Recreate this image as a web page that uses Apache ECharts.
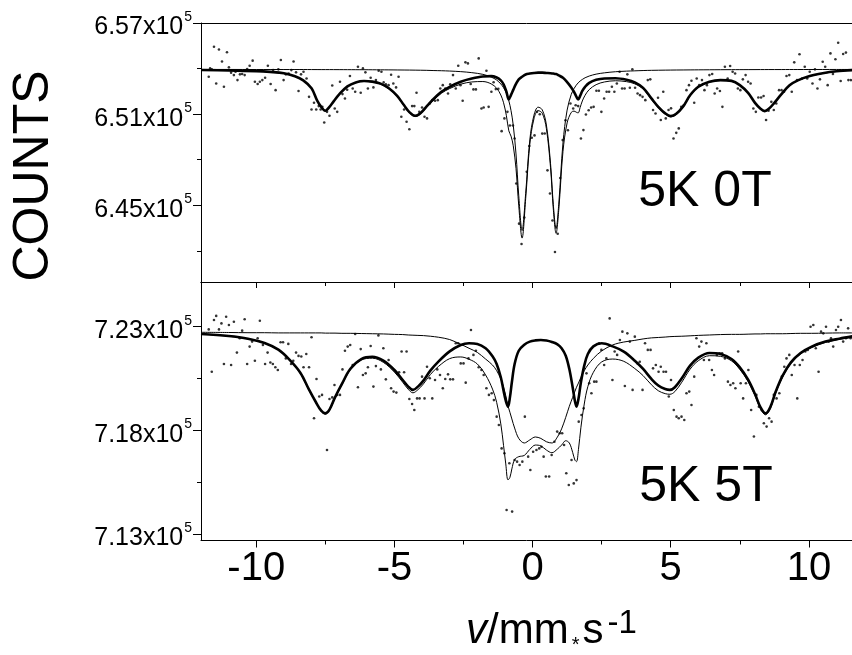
<!DOCTYPE html>
<html>
<head>
<meta charset="utf-8">
<script src="https://cdn.jsdelivr.net/npm/echarts@6/dist/echarts.min.js"></script>
<style>
  html, body { margin: 0; padding: 0; background: #fff; }
  #chart { width: 852px; height: 655px; }
</style>
</head>
<body>
<div id="chart"></div>
<script>
// Mössbauer spectra at 5 K: zero field (top) and 5 T applied field (bottom).
// Velocities in mm/s, intensities in counts.

// ---- tick values ----
const X_LABELS = [-10, -5, 0, 5, 10];
const X_MAJOR = [-10, -5, 0, 5, 10];
const X_MINOR = [-7.5, -2.5, 2.5, 7.5];
const TOP_MAJOR = [645000, 651000, 657000];
const TOP_MINOR = [642000, 648000, 654000];
const BOT_MAJOR = [713000, 718000, 723000];
const BOT_MINOR = [715500, 720500];

// ---- 5K 0T: fitted curves ----
const velTopFit = [
  -12, -11, -10, -9.5, -9, -8.6, -8.3, -8.0, -7.8, -7.65,
  -7.5, -7.35, -7.2, -7.0, -6.7, -6.4, -6.1, -5.8, -5.5, -5.2,
  -4.9, -4.65, -4.45, -4.25, -4.05, -3.85, -3.6, -3.3, -3.0, -2.6,
  -2.2, -1.8, -1.5, -1.3, -1.15, -1.05, -0.95, -0.86, -0.78, -0.7,
  -0.6, -0.5, -0.38, -0.25, -0.1, 0.05, 0.2, 0.35, 0.5, 0.65,
  0.75, 0.85, 0.95, 1.1, 1.25, 1.4, 1.5, 1.58, 1.65, 1.72,
  1.8, 1.9, 2.05, 2.3, 2.6, 3.0, 3.4, 3.7, 4.0, 4.3,
  4.55, 4.8, 5.0, 5.2, 5.45, 5.7, 6.0, 6.4, 6.8, 7.2,
  7.5, 7.8, 8.05, 8.25, 8.4, 8.55, 8.75, 9.0, 9.3, 9.6,
  10.0, 10.5, 11.0, 11.6
];
const sextetTop = [
  653910, 653880, 653830, 653780, 653690, 653490, 653220, 652700, 651910, 651480,
  651220, 651480, 651840, 652300, 652830, 653090, 653180, 653140, 653010, 652700,
  652200, 651580, 651120, 650890, 651080, 651480, 651970, 652470, 652800, 653130,
  653340, 653480, 653500, 653410, 653220, 652960, 652500, 651970, 652270, 652600,
  652990, 653290, 653460, 653610, 653670, 653710, 653730, 653730, 653710, 653690,
  653670, 653640, 653550, 653390, 653110, 652760, 652470, 652170, 651970, 652200,
  652530, 652800, 653060, 653260, 653350, 653360, 653260, 653090, 652730, 652040,
  651480, 651050, 650870, 651020, 651510, 652240, 652800, 653130, 653240, 653190,
  652910, 652400, 651740, 651350, 651200, 651350, 651740, 652300, 652900, 653220,
  653490, 653690, 653820, 653900
];
const doubletTop = [
  653943, 653943, 653937, 653937, 653937, 653937, 653937, 653934, 653933, 653932,
  653932, 653932, 653931, 653930, 653928, 653926, 653924, 653921, 653917, 653914,
  653909, 653904, 653901, 653896, 653891, 653885, 653871, 653858, 653838, 653798,
  653732, 653620, 653442, 653245, 652987, 652737, 652374, 651880, 651234, 650271,
  648379, 645623, 643335, 645775, 649302, 650930, 651458, 651286, 650284, 647740,
  645050, 643467, 645148, 649104, 651267, 652302, 652684, 652908, 653060, 653179,
  653284, 653396, 653508, 653634, 653719, 653792, 653831, 653851, 653871, 653884,
  653891, 653897, 653901, 653905, 653909, 653913, 653917, 653921, 653925, 653928,
  653930, 653931, 653932, 653934, 653934, 653935, 653935, 653935, 653937, 653937,
  653939, 653940, 653941, 653942
];
const fitTop = [
  653904, 653877, 653818, 653765, 653673, 653475, 653212, 652684, 651886, 651458,
  651201, 651458, 651820, 652282, 652809, 653067, 653152, 653113, 652974, 652658,
  652163, 651530, 651062, 650838, 651023, 651412, 651893, 652374, 652684, 652974,
  653119, 653146, 652994, 652704, 652262, 651748, 650924, 649902, 649553, 648920,
  647423, 644964, 642841, 645432, 649025, 650693, 651234, 651062, 650047, 647476,
  644766, 643157, 644753, 648544, 650423, 651115, 651201, 651128, 651082, 651431,
  651867, 652242, 652618, 652941, 653119, 653198, 653139, 652994, 652651, 651972,
  651418, 650996, 650825, 650970, 651471, 652196, 652763, 653100, 653212, 653172,
  652895, 652381, 651722, 651329, 651188, 651333, 651728, 652289, 652882, 653212,
  653475, 653676, 653812, 653897
];

// ---- 5K 0T: measured points ----
const velTopData = [
  -11.72, -11.67, -11.61, -11.53, -11.45, -11.35, -11.24, -11.17, -11.06, -10.99,
  -10.91, -10.81, -10.75, -10.68, -10.59, -10.51, -10.42, -10.33, -10.24, -10.13,
  -10.05, -9.95, -9.87, -9.78, -9.68, -9.58, -9.48, -9.39, -9.30, -9.20,
  -9.11, -9.01, -8.93, -8.83, -8.73, -8.65, -8.56, -8.47, -8.38, -8.29,
  -8.18, -8.09, -8.00, -7.91, -7.83, -7.74, -7.67, -7.61, -7.54, -7.44,
  -7.35, -7.25, -7.16, -7.07, -6.97, -6.88, -6.79, -6.71, -6.61, -6.51,
  -6.42, -6.32, -6.22, -6.14, -6.05, -5.96, -5.86, -5.76, -5.67, -5.57,
  -5.47, -5.39, -5.31, -5.21, -5.12, -5.04, -4.94, -4.85, -4.75, -4.65,
  -4.56, -4.46, -4.36, -4.28, -4.20, -4.10, -4.00, -3.91, -3.82, -3.72,
  -3.63, -3.53, -3.43, -3.34, -3.25, -3.16, -3.06, -2.98, -2.88, -2.78,
  -2.69, -2.61, -2.53, -2.43, -2.34, -2.24, -2.14, -2.05, -1.95, -1.85,
  -1.77, -1.67, -1.59, -1.49, -1.41, -1.33, -1.24, -1.12, -1.02, -0.91,
  -0.82, -0.71, -0.65, -0.59, -0.49, -0.40, -0.30, -0.21, -0.12, -0.03,
  0.07, 0.16, 0.26, 0.35, 0.44, 0.54, 0.63, 0.72, 0.81, 0.91,
  1.00, 1.09, 1.19, 1.28, 1.37, 1.47, 1.56, 1.65, 1.75, 1.84,
  1.93, 2.03, 2.12, 2.21, 2.31, 2.40, 2.49, 2.59, 2.68, 2.77,
  2.87, 2.96, 3.05, 3.15, 3.24, 3.33, 3.43, 3.52, 3.61, 3.71,
  3.80, 3.89, 3.98, 4.08, 4.17, 4.26, 4.36, 4.45, 4.54, 4.64,
  4.73, 4.82, 4.92, 5.01, 5.10, 5.20, 5.29, 5.38, 5.47, 5.57,
  5.66, 5.75, 5.85, 5.94, 6.03, 6.13, 6.22, 6.31, 6.40, 6.50,
  6.59, 6.68, 6.78, 6.87, 6.96, 7.06, 7.15, 7.24, 7.33, 7.43,
  7.52, 7.61, 7.71, 7.80, 7.89, 7.99, 8.08, 8.17, 8.27, 8.36,
  8.45, 8.54, 8.64, 8.73, 8.82, 8.92, 9.01, 9.10, 9.19, 9.29,
  9.38, 9.47, 9.57, 9.66, 9.75, 9.85, 9.94, 10.03, 10.13, 10.22,
  10.31, 10.40, 10.50, 10.59, 10.68, 10.78, 10.87, 10.96, 11.06, 11.15,
  11.24, 11.34, 11.43, 11.52
];
const countsTopData = [
  653460, 654010, 653950, 655440, 653020, 655260, 654470, 652800, 655070, 654080,
  653730, 653570, 653790, 653240, 653620, 653640, 653570, 653970, 654190, 654520,
  653130, 652980, 653130, 653240, 653400, 654190, 652980, 653900, 652580, 653950,
  654560, 653240, 653620, 653680, 653900, 654470, 653750, 652520, 653620, 653790,
  653350, 652140, 651310, 651750, 651310, 651530, 651310, 651480, 650450, 651150,
  650890, 652890, 651370, 651150, 653130, 652320, 652030, 652610, 653510, 652690,
  652470, 654120, 652410, 654010, 653750, 652690, 653400, 652760, 653240, 653860,
  653790, 653090, 652960, 652910, 653590, 653020, 652760, 653460, 650830, 651310,
  650500, 650010, 651530, 651530, 652410, 651150, 651440, 650830, 650720, 651700,
  651920, 651880, 651920, 652690, 652910, 652690, 652360, 652960, 653570, 652690,
  654190, 652910, 651880, 654410, 654340, 652980, 652630, 652630, 654670, 651370,
  651440, 653860, 651480, 652470, 653100, 652650, 652670, 649880, 650720, 651150,
  650250, 650250, 649400, 646430, 643790, 642450, 644200, 647200, 648900, 649450,
  649600, 651150, 650990, 649720, 649730, 647300, 645780, 644000, 641920, 643130,
  646800, 649290, 650600, 649940, 651700, 651370, 651590, 651530, 649400, 649950,
  650980, 651260, 651440, 651480, 652540, 652540, 651150, 652030, 652470, 652470,
  652800, 652470, 653020, 653790, 652690, 652690, 653620, 652740, 653950, 652740,
  652360, 652250, 652140, 651920, 653240, 653290, 651270, 651040, 652080, 650610,
  652470, 650720, 651270, 651380, 649400, 649770, 650060, 651480, 651590, 652580,
  652910, 653200, 651750, 653350, 652910, 653240, 652580, 652910, 653570, 653640,
  652360, 652690, 652520, 651480, 654120, 653350, 654170, 653790, 653680, 652690,
  652580, 653290, 653570, 653130, 653020, 651370, 651150, 652100, 652100, 652190,
  650610, 651220, 651810, 651270, 651700, 652580, 652580, 652470, 653510, 653570,
  652470, 654410, 653240, 654940, 653350, 654120, 653350, 653790, 653020, 653950,
  652690, 653290, 654450, 654120, 652910, 655000, 653640, 654610, 655700, 653180,
  654960, 655050, 653240, 653240
];

// ---- 5K 5T: fitted curves ----
const velBotFit = [
  -12, -11, -10.3, -9.7, -9.2, -8.8, -8.4, -8.1, -7.85, -7.65,
  -7.5, -7.35, -7.15, -6.9, -6.6, -6.2, -5.8, -5.4, -5.0,
  -4.7, -4.5, -4.33, -4.15, -3.95, -3.7, -3.4, -3.0, -2.6, -2.3,
  -2.0, -1.7, -1.45, -1.3, -1.15, -1.05, -0.97, -0.89, -0.82, -0.75,
  -0.65, -0.5, -0.3, -0.1, 0.1, 0.3, 0.5, 0.7, 0.9, 1.05,
  1.2, 1.33, 1.45, 1.53, 1.59, 1.66, 1.75, 1.87, 2.0, 2.2,
  2.5, 2.9, 3.3, 3.7, 4.0, 4.3, 4.55, 4.8, 4.97, 5.15,
  5.4, 5.7, 6.0, 6.4, 6.8, 7.2, 7.5, 7.8, 8.05, 8.25,
  8.43, 8.6, 8.8, 9.05, 9.35, 9.7, 10.1, 10.6, 11.1, 11.6
];
const sextetBot = [
  722650, 722550, 722420, 722210, 721890, 721410, 720770, 719990, 719380, 718950,
  718820, 719000, 719590, 720240, 720960, 721440, 721550, 721360, 720910,
  720430, 720110, 719950, 720110, 720400, 720880, 721330, 721810, 722120, 722200,
  722170, 721960, 721570, 721200, 720560, 719910, 719430, 719140, 719590, 720320,
  721200, 721840, 722130, 722280, 722340, 722360, 722330, 722260, 722150, 721960,
  721600, 720960, 720080, 719430, 719140, 719510, 720320, 721120, 721680, 722050,
  722200, 722050, 721800, 721360, 720960, 720480, 720160, 719990, 719950, 720080,
  720510, 721120, 721510, 721730, 721680, 721440, 721040, 720440, 719750, 719110,
  718820, 719110, 719870, 720640, 721280, 721730, 722040, 722280, 722420, 722540
];
const broadBot = [
  722730, 722720, 722710, 722710, 722700, 722700, 722700, 722700, 722700, 722700,
  722690, 722690, 722690, 722680, 722680, 722670, 722660, 722650, 722630,
  722620, 722600, 722590, 722580, 722570, 722540, 722490, 722380, 722150, 721960,
  721760, 721440, 721150, 720880, 720480, 720080, 719670, 719190, 718870, 718550,
  718110, 717610, 717390, 717540, 717680, 717610, 717450, 717390, 717680, 718070,
  718630, 719160, 719590, 719870, 720080, 720280, 720560, 720880, 721150, 721470,
  721830, 722120, 722260, 722340, 722410, 722460, 722480, 722500, 722520, 722530,
  722540, 722560, 722580, 722600, 722620, 722630, 722630, 722640, 722650, 722650,
  722660, 722660, 722660, 722660, 722670, 722680, 722680, 722690, 722700, 722700
];
const fitBot = [
  722650, 722540, 722410, 722200, 721870, 721390, 720730, 719960, 719350, 718920,
  718780, 718960, 719550, 720190, 720910, 721390, 721480, 721280, 720810,
  720320, 719980, 719810, 719960, 720240, 720690, 721090, 721460, 721540, 721430,
  721200, 720670, 719990, 719350, 718310, 717260, 716380, 715610, 715730, 716140,
  716590, 716730, 716790, 717080, 717290, 717250, 717050, 716920, 717100, 717290,
  717500, 717390, 716940, 716570, 716490, 717070, 718150, 719270, 720110, 720800,
  721300, 721440, 721330, 720980, 720640, 720200, 719910, 719770, 719740, 719870,
  720320, 720950, 721360, 721600, 721570, 721350, 720940, 720360, 719670, 719030,
  718750, 719040, 719800, 720570, 721220, 721680, 721990, 722240, 722390, 722500
];

// ---- 5K 5T: measured points ----
const velBotData = [
  -11.72, -11.61, -11.53, -11.45, -11.35, -11.26, -11.17, -11.09, -10.99, -10.91,
  -10.81, -10.70, -10.60, -10.51, -10.42, -10.33, -10.24, -10.15, -10.05, -9.95,
  -9.87, -9.76, -9.68, -9.59, -9.49, -9.40, -9.31, -9.22, -9.12, -9.03,
  -8.93, -8.84, -8.74, -8.66, -8.56, -8.47, -8.37, -8.29, -8.19, -8.09,
  -8.00, -7.91, -7.82, -7.72, -7.62, -7.44, -7.35, -7.25, -7.17, -7.07,
  -6.97, -6.88, -6.79, -6.69, -6.60, -6.51, -6.42, -6.32, -6.22, -6.14,
  -6.04, -5.96, -5.86, -5.76, -5.67, -5.58, -5.49, -5.40, -5.31, -5.21,
  -5.12, -5.03, -4.93, -4.83, -4.74, -4.65, -4.56, -4.46, -4.36, -4.28,
  -4.18, -4.09, -4.00, -3.91, -3.82, -3.72, -3.63, -3.53, -3.45, -3.35,
  -3.25, -3.16, -3.06, -2.98, -2.88, -2.78, -2.69, -2.60, -2.50, -2.42,
  -2.32, -2.23, -2.14, -2.05, -1.95, -1.85, -1.77, -1.67, -1.58, -1.48,
  -1.40, -1.30, -1.22, -1.12, -1.02, -0.94, -0.84, -0.74, -0.65, -0.56,
  -0.47, -0.37, -0.28, -0.16, -0.08, 0.02, 0.14, 0.24, 0.32, 0.40,
  0.48, 0.60, 0.69, 0.79, 0.89, 0.98, 1.07, 1.14, 1.22, 1.31,
  1.41, 1.49, 1.59, 1.67, 1.77, 1.85, 1.95, 2.05, 2.13, 2.23,
  2.31, 2.41, 2.49, 2.59, 2.67, 2.79, 2.89, 2.97, 3.06, 3.16,
  3.25, 3.34, 3.43, 3.52, 3.62, 3.70, 3.80, 3.88, 3.98, 4.07,
  4.17, 4.27, 4.36, 4.46, 4.56, 4.64, 4.74, 4.83, 4.93, 5.01,
  5.11, 5.21, 5.29, 5.39, 5.49, 5.57, 5.67, 5.75, 5.85, 5.93,
  6.03, 6.11, 6.20, 6.29, 6.39, 6.49, 6.57, 6.67, 6.77, 6.86,
  6.96, 7.07, 7.16, 7.26, 7.34, 7.44, 7.53, 7.62, 7.72, 7.81,
  7.91, 8.01, 8.10, 8.19, 8.29, 8.37, 8.47, 8.56, 8.65, 8.73,
  8.83, 8.93, 9.02, 9.11, 9.19, 9.29, 9.38, 9.48, 9.58, 9.67,
  9.77, 9.87, 9.96, 10.06, 10.16, 10.25, 10.35, 10.44, 10.52, 10.62,
  10.72, 10.80, 10.88, 10.98, 11.06, 11.16, 11.24, 11.34, 11.42, 11.51
];
const countsBotData = [
  722870, 720830, 723320, 723520, 722870, 723160, 721200, 723480, 723080, 721150,
  723240, 721750, 722440, 722810, 723360, 721200, 722040, 722280, 721360, 722440,
  723290, 722120, 721200, 721750, 721270, 721200, 721040, 720910, 722250, 722250,
  721470, 722170, 721200, 721360, 721750, 721590, 721560, 721040, 721680, 721040,
  722490, 718580, 720480, 719630, 719710, 717050, 719510, 719590, 720190, 719710,
  719710, 720940, 721840, 722040, 722120, 721150, 722650, 720080, 721920, 720670,
  720750, 721040, 722070, 720110, 721100, 722580, 720940, 721960, 720460, 721390,
  720030, 719870, 719820, 720800, 721800, 720800, 721800, 719510, 719270, 718980,
  719540, 719540, 720590, 719540, 721070, 720510, 719540, 720430, 720940, 720670,
  720030, 720480, 720700, 720460, 720460, 722200, 722200, 721230, 721230, 720300,
  721470, 722840, 721640, 721840, 721040, 720910, 720670, 720030, 719710, 719790,
  719460, 718660, 718260, 717130, 716890, 714160, 716410, 714080, 716570, 716490,
  716330, 716490, 718660, 716730, 716090, 716970, 717050, 717130, 717210, 716730,
  715770, 715770, 716810, 717450, 717940, 717860, 717860, 717290, 715930, 715360,
  716570, 715440, 715600, 718420, 718740, 719060, 720750, 720270, 719790, 720350,
  720350, 722200, 721880, 721150, 721470, 723400, 720430, 721800, 721640, 722360,
  722760, 720140, 722680, 722280, 719950, 722520, 721230, 721310, 719950, 722200,
  721880, 721880, 720990, 721150, 720830, 721070, 720830, 720830, 719630, 720430,
  718980, 718660, 718580, 718660, 718500, 719790, 719870, 719220, 720590, 722440,
  722040, 722280, 721390, 722200, 721390, 720910, 720670, 721640, 721720, 721720,
  721470, 720350, 720190, 720270, 720030, 721800, 720270, 719540, 720270, 720910,
  718980, 717700, 719710, 719140, 718980, 718340, 718180, 718580, 718420, 719710,
  719540, 719790, 720590, 721070, 721470, 721640, 720670, 721150, 719540, 721150,
  721390, 721800, 721880, 723000, 723080, 721960, 720830, 722760, 722680, 723000,
  722280, 722440, 722040, 722840, 723000, 723320, 722280, 722440, 722920, 722440
];

// ---- chart ----
const FONT = '"Liberation Sans", Arial, Helvetica, sans-serif';
const BLACK = '#000';
const X_MIN = -12, X_MAX = 11.56;

const zip = (xs, ys) => xs.map((x, i) => [x, ys[i]]);

const baseX = (gridIndex, position) => ({
  gridIndex, type: 'value', min: X_MIN, max: X_MAX, position,
  axisLine: { show: false, onZero: false, lineStyle: { color: BLACK, width: 1 } },
  axisTick: { show: false },
  axisLabel: { show: false },
  splitLine: { show: false }
});

const yLabel = {
  formatter: v => `{m|${(v / 1e5).toFixed(2)}x10}{s|5}`,
  margin: 9,
  rich: {
    m: { fontSize: 25, fontFamily: FONT, color: BLACK, padding: [9, 0, 0, 0] },
    s: { fontSize: 14, fontFamily: FONT, color: BLACK, verticalAlign: 'top', padding: [4, 0, 0, 1] }
  }
};

const baseY = (gridIndex, min, max) => ({
  gridIndex, type: 'value', min, max, position: 'left',
  axisLine: { show: false, onZero: false, lineStyle: { color: BLACK, width: 1 } },
  axisTick: { show: false },
  axisLabel: { show: false },
  splitLine: { show: false }
});

const TOP_MIN = 639950, TOP_MAX = 657000;
const BOT_MIN = 712686, BOT_MAX = 725156;

const xAxes = [
  // top panel: bottom edge and top frame line
  Object.assign(baseX(0, 'bottom'), { axisLine: { show: true, onZero: false, lineStyle: { color: BLACK, width: 1 } } }),
  Object.assign(baseX(0, 'top'), { axisLine: { show: true, onZero: false, lineStyle: { color: BLACK, width: 1 } } }),
  // bottom panel: labelled axis with outward ticks
  Object.assign(baseX(1, 'bottom'), {
    axisLine: { show: true, onZero: false, lineStyle: { color: BLACK, width: 1 } },
    axisTick: { show: true, inside: false, length: 7, customValues: X_MAJOR, lineStyle: { color: BLACK } },
    axisLabel: { show: true, customValues: X_LABELS, fontSize: 40, fontFamily: FONT, color: BLACK, margin: 8 }
  }),
  Object.assign(baseX(1, 'bottom'), {
    axisTick: { show: true, inside: false, length: 4, customValues: X_MINOR, lineStyle: { color: BLACK } }
  }),
  // bottom panel: top edge with inward ticks
  Object.assign(baseX(1, 'top'), {
    axisLine: { show: true, onZero: false, lineStyle: { color: BLACK, width: 1 } },
    axisTick: { show: true, inside: true, length: 6, customValues: X_MAJOR, lineStyle: { color: BLACK } }
  }),
  Object.assign(baseX(1, 'top'), {
    axisTick: { show: true, inside: true, length: 4, customValues: X_MINOR, lineStyle: { color: BLACK } }
  })
];

const yAxes = [
  Object.assign(baseY(0, TOP_MIN, TOP_MAX), {
    axisLine: { show: true, onZero: false, lineStyle: { color: BLACK, width: 1 } },
    axisTick: { show: true, length: 8, customValues: TOP_MAJOR, lineStyle: { color: BLACK } },
    axisLabel: Object.assign({ show: true, customValues: TOP_MAJOR }, yLabel)
  }),
  Object.assign(baseY(0, TOP_MIN, TOP_MAX), {
    axisTick: { show: true, length: 4, customValues: TOP_MINOR, lineStyle: { color: BLACK } }
  }),
  Object.assign(baseY(1, BOT_MIN, BOT_MAX), {
    axisLine: { show: true, onZero: false, lineStyle: { color: BLACK, width: 1 } },
    axisTick: { show: true, length: 8, customValues: BOT_MAJOR, lineStyle: { color: BLACK } },
    axisLabel: Object.assign({ show: true, customValues: BOT_MAJOR }, yLabel)
  }),
  Object.assign(baseY(1, BOT_MIN, BOT_MAX), {
    axisTick: { show: true, length: 4, customValues: BOT_MINOR, lineStyle: { color: BLACK } }
  })
];

const points = (xi, yi, xs, ys) => ({
  type: 'scatter', xAxisIndex: xi, yAxisIndex: yi, data: zip(xs, ys),
  symbol: 'circle', symbolSize: 2.6, itemStyle: { color: BLACK }, silent: true
});
const curve = (xi, yi, xs, ys, width) => ({
  type: 'line', xAxisIndex: xi, yAxisIndex: yi, data: zip(xs, ys),
  showSymbol: false, smooth: 0.35, silent: true,
  lineStyle: { color: BLACK, width }
});

const chart = echarts.init(document.getElementById('chart'), null, { renderer: 'canvas' });
chart.setOption({
  animation: false,
  backgroundColor: '#fff',
  grid: [
    { left: 201, top: 23, width: 651, height: 259 },
    { left: 201, top: 282, width: 651, height: 258.5 }
  ],
  xAxis: xAxes,
  yAxis: yAxes,
  series: [
    points(0, 0, velTopData, countsTopData),
    curve(0, 0, velTopFit, doubletTop, 1),
    curve(0, 0, velTopFit, fitTop, 1),
    curve(0, 0, velTopFit, sextetTop, 2.6),
    points(2, 2, velBotData, countsBotData),
    curve(2, 2, velBotFit, broadBot, 1),
    curve(2, 2, velBotFit, fitBot, 1),
    curve(2, 2, velBotFit, sextetBot, 2.6)
  ],
  graphic: [
    {
      type: 'text', x: 34, y: 176, rotation: Math.PI / 2,
      style: { text: 'COUNTS', fontSize: 50, fontFamily: FONT, fill: BLACK, align: 'center', verticalAlign: 'middle' }
    },
    {
      type: 'text', x: 705, y: 192,
      style: { text: '5K 0T', fontSize: 50, fontFamily: FONT, fill: BLACK, align: 'center', verticalAlign: 'middle' }
    },
    {
      type: 'text', x: 706, y: 487,
      style: { text: '5K 5T', fontSize: 50, fontFamily: FONT, fill: BLACK, align: 'center', verticalAlign: 'middle' }
    },
    {
      // axis title: italic v, small multiplication star, raised exponent
      type: 'text', x: 466, y: 607,
      style: {
        text: '{i|v}{n|/mm}{d|*}{n|s}{p|-1}',
        align: 'left', verticalAlign: 'top', fill: BLACK,
        rich: {
          i: { fontSize: 42, lineHeight: 48, fontStyle: 'italic', fontFamily: FONT, fill: BLACK },
          n: { fontSize: 42, lineHeight: 48, fontFamily: FONT, fill: BLACK },
          d: { fontSize: 20, lineHeight: 38, fontFamily: FONT, fill: BLACK, verticalAlign: 'bottom', padding: [0, 3, 0, 3] },
          p: { fontSize: 33, lineHeight: 16, fontFamily: FONT, fill: BLACK, verticalAlign: 'top', padding: [0, 0, 0, 4] }
        }
      }
    }
  ]
});
</script>
</body>
</html>
